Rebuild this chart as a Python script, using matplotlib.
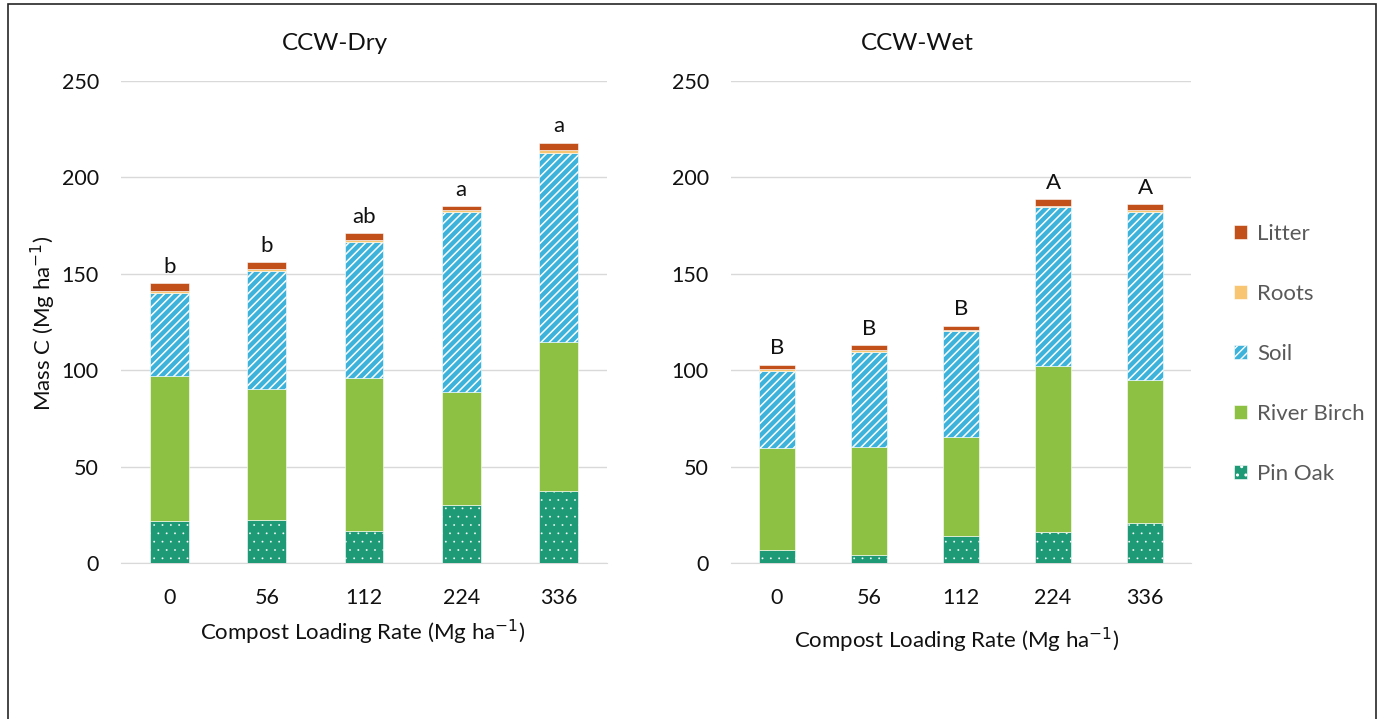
import numpy as np
import matplotlib as mpl
import matplotlib.pyplot as plt
from matplotlib.patches import Rectangle, Patch

plt.rcParams['font.family'] = ['Lato', 'DejaVu Sans']
plt.rcParams['hatch.color'] = 'white'

# loading rates (Mg ha-1)
rates = ['0', '56', '112', '224', '336']

# carbon pools, CCW-Dry (Mg C ha-1)
dry_pin_oak = [22.0, 22.3, 16.8, 30.3, 37.1]
dry_river_birch = [75.0, 68.0, 79.2, 58.4, 77.6]
dry_soil = [43.2, 61.3, 70.5, 93.4, 97.9]
dry_roots = [1.0, 1.0, 0.8, 1.0, 1.5]
dry_litter = [3.8, 3.4, 3.9, 2.1, 3.9]
dry_letters = ['b', 'b', 'ab', 'a', 'a']

# carbon pools, CCW-Wet (Mg C ha-1)
wet_pin_oak = [6.9, 3.9, 14.1, 15.9, 20.5]
wet_river_birch = [53.0, 56.5, 51.2, 86.2, 74.5]
wet_soil = [39.7, 49.2, 55.2, 82.4, 87.0]
wet_roots = [0.8, 0.7, 0.5, 0.7, 1.0]
wet_litter = [2.5, 2.6, 2.1, 3.6, 3.3]
wet_letters = ['B', 'B', 'B', 'A', 'A']

pool_names = ['Pin Oak', 'River Birch', 'Soil', 'Roots', 'Litter']
pool_colors = ['#1E9B76', '#8CC144', '#3DB3DB', '#F8C572', '#C1501B']
pool_hatches = ['..', None, '////', None, None]
# dots get a hairline, stripes a bit more
hatch_lw = [0.1, 1.0, 1.1, 1.0, 1.0]

W, H = 1384, 719
fig = plt.figure(figsize=(W / 100, H / 100), dpi=100)

# outer frame
fig.patches.append(Rectangle((8 / W, -0.02), (1376 - 8) / W, 1.02 - 4 / H,
                             transform=fig.transFigure, fill=False,
                             edgecolor='#262626', linewidth=1.2))


def stacked(ax, pools, letters):
    x = np.arange(len(rates))
    bottom = np.zeros(len(rates))
    for vals, col, hat, hlw in zip(pools, pool_colors, pool_hatches, hatch_lw):
        vals = np.array(vals)
        with mpl.rc_context({'hatch.linewidth': hlw}):
            ax.bar(x, vals, width=0.4, bottom=bottom, color=col, hatch=hat,
                   edgecolor='white', linewidth=0.4, zorder=3)
        bottom += vals
    for xi, top, lab in zip(x, bottom, letters):
        ax.annotate(lab, (xi, top), xytext=(0, 4.5), textcoords='offset points',
                    ha='center', va='bottom', fontsize=16, color='#111111')
    ax.set_xlim(-0.5, len(rates) - 0.5)
    ax.set_ylim(0, 250)
    ax.set_yticks([0, 50, 100, 150, 200, 250])
    ax.set_xticks(x)
    ax.set_xticklabels(rates)
    ax.yaxis.grid(True, color='#D9D9D9', linewidth=1.0, zorder=0)
    ax.set_axisbelow(True)
    for s in ['top', 'right', 'left']:
        ax.spines[s].set_visible(False)
    ax.spines['bottom'].set_color('#D9D9D9')
    ax.tick_params(axis='both', length=0, labelsize=15.5, colors='#111111')
    ax.tick_params(axis='x', pad=18)
    ax.tick_params(axis='y', pad=16)


bot = 1 - 563 / H
top = 1 - 81 / H
ax1 = fig.add_axes([121 / W, bot, 486 / W, top - bot])
ax2 = fig.add_axes([731 / W, bot, 460 / W, top - bot])

stacked(ax1, [dry_pin_oak, dry_river_birch, dry_soil, dry_roots, dry_litter], dry_letters)
stacked(ax2, [wet_pin_oak, wet_river_birch, wet_soil, wet_roots, wet_litter], wet_letters)

fig.text(43 / W, 1 - 323 / H, 'Mass C (Mg ha$^{-1}$)', rotation=90, ha='center', va='center',
         fontsize=16, color='#111111')

fig.text(335 / W, 1 - 43 / H, 'CCW-Dry', ha='center', va='center', fontsize=17.5, color='#111111')
fig.text(917 / W, 1 - 43 / H, 'CCW-Wet', ha='center', va='center', fontsize=17.5, color='#111111')
fig.text(363 / W, 1 - 632 / H, 'Compost Loading Rate (Mg ha$^{-1}$)', ha='center', va='center',
         fontsize=16, color='#111111')
fig.text(957 / W, 1 - 640 / H, 'Compost Loading Rate (Mg ha$^{-1}$)', ha='center', va='center',
         fontsize=16, color='#111111')

handles = []
for c, h, hlw in zip(pool_colors, pool_hatches, hatch_lw):
    with mpl.rc_context({'hatch.linewidth': hlw}):
        handles.append(Patch(facecolor=c, hatch=h, edgecolor='white', linewidth=0.4))
leg = fig.legend(handles[::-1], pool_names[::-1], loc='center left',
                 bbox_to_anchor=(1234 / W, 1 - 354 / H), frameon=False,
                 fontsize=16, handlelength=0.6, handleheight=0.6,
                 handletextpad=0.45, labelspacing=1.8, borderpad=0, borderaxespad=0)
for t in leg.get_texts():
    t.set_color('#595959')

fig.savefig('out.png', dpi=100)
